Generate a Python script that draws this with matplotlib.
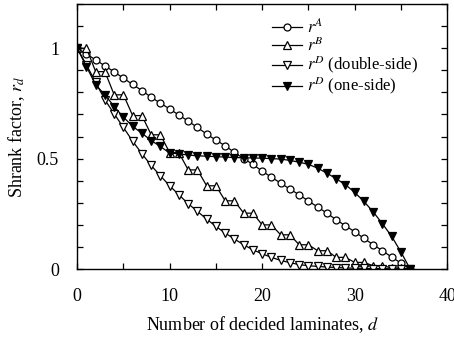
import matplotlib
matplotlib.use("Agg")
import matplotlib.pyplot as plt
from matplotlib.ticker import MultipleLocator

plt.rcParams['font.family'] = ['Liberation Serif', 'DejaVu Serif']
plt.rcParams['mathtext.fontset'] = 'stix'
plt.rcParams['font.size'] = 13

d = list(range(37))

# r^A (circles)
rA = [1.0, 0.974, 0.947, 0.92, 0.893, 0.864, 0.836, 0.808, 0.778, 0.751,
      0.725, 0.697, 0.67, 0.641, 0.611, 0.584, 0.558, 0.528, 0.5, 0.474,
      0.443, 0.416, 0.389, 0.362, 0.336, 0.308, 0.281, 0.253, 0.223, 0.196,
      0.169, 0.139, 0.11, 0.083, 0.054, 0.027, 0.0]

# r^B (up triangles), steps of two
rB = [1.0, 1.0, 0.894, 0.894, 0.789, 0.789, 0.695, 0.695, 0.608, 0.608,
      0.527, 0.527, 0.449, 0.449, 0.377, 0.377, 0.309, 0.309, 0.253, 0.253,
      0.2, 0.2, 0.155, 0.155, 0.11, 0.11, 0.083, 0.083, 0.053, 0.053,
      0.03, 0.03, 0.015, 0.015, 0.005, 0.005, 0.0]

# r^D double-side (open down triangles)
rD2 = [1.0, 0.925, 0.845, 0.766, 0.703, 0.641, 0.579, 0.522, 0.469, 0.422,
       0.377, 0.336, 0.296, 0.261, 0.226, 0.193, 0.163, 0.136, 0.11, 0.087,
       0.069, 0.053, 0.039, 0.029, 0.02, 0.015, 0.012, 0.009, 0.007, 0.005,
       0.004, 0.003, 0.002, 0.002, 0.001, 0.001, 0.0]

# r^D one-side (filled down triangles)
rD1 = [1.0, 0.917, 0.834, 0.789, 0.736, 0.688, 0.646, 0.615, 0.582, 0.555,
       0.525, 0.522, 0.516, 0.513, 0.511, 0.509, 0.507, 0.505, 0.504, 0.503,
       0.502, 0.5, 0.498, 0.492, 0.484, 0.474, 0.457, 0.434, 0.409, 0.382,
       0.347, 0.306, 0.259, 0.205, 0.148, 0.077, 0.0]

fig = plt.figure(figsize=(4.54, 3.38), dpi=100)
ax = fig.add_axes([0.170, 0.204, 0.815, 0.784])

ms = 5
ax.plot(d, rA, '-o', color='black', lw=0.9, ms=ms, mfc='white', mec='black', mew=0.9, label='$r^A$')
ax.plot(d, rB, '-^', color='black', lw=0.9, ms=ms + 0.5, mfc='white', mec='black', mew=0.9, label='$r^B$')
ax.plot(d, rD2, '-v', color='black', lw=0.9, ms=ms + 0.5, mfc='white', mec='black', mew=0.9, label='$r^D$ (double-side)')
ax.plot(d, rD1, '-v', color='black', lw=0.9, ms=ms + 0.5, mfc='black', mec='black', mew=0.9, label='$r^D$ (one-side)')

ax.set_xlim(0, 40)
ax.set_ylim(0, 1.2)
ax.xaxis.set_major_locator(MultipleLocator(10))
ax.xaxis.set_minor_locator(MultipleLocator(5))
ax.yaxis.set_major_locator(MultipleLocator(0.5))
ax.yaxis.set_minor_locator(MultipleLocator(0.1))
ax.yaxis.set_major_formatter(plt.FuncFormatter(lambda v, p: '%g' % v))
ax.tick_params(which='both', direction='in', top=True, right=True, length=4.5, width=0.9)
ax.tick_params(axis='y', which='major', pad=13, labelsize=13)
ax.tick_params(axis='x', which='major', pad=14, labelsize=13)
for s in ax.spines.values():
    s.set_linewidth(1.0)

ax.set_xlabel('Number of decided laminates, $d$', fontsize=13, labelpad=6)
ax.set_ylabel('Shrank factor, $r_d$', fontsize=13, labelpad=7)

ax.legend(loc='upper left', bbox_to_anchor=(0.527, 0.947), frameon=False, fontsize=12,
          handlelength=1.8, handletextpad=0.3, labelspacing=-0.05, borderaxespad=0,
          borderpad=0)

fig.savefig('out.png', dpi=100)
